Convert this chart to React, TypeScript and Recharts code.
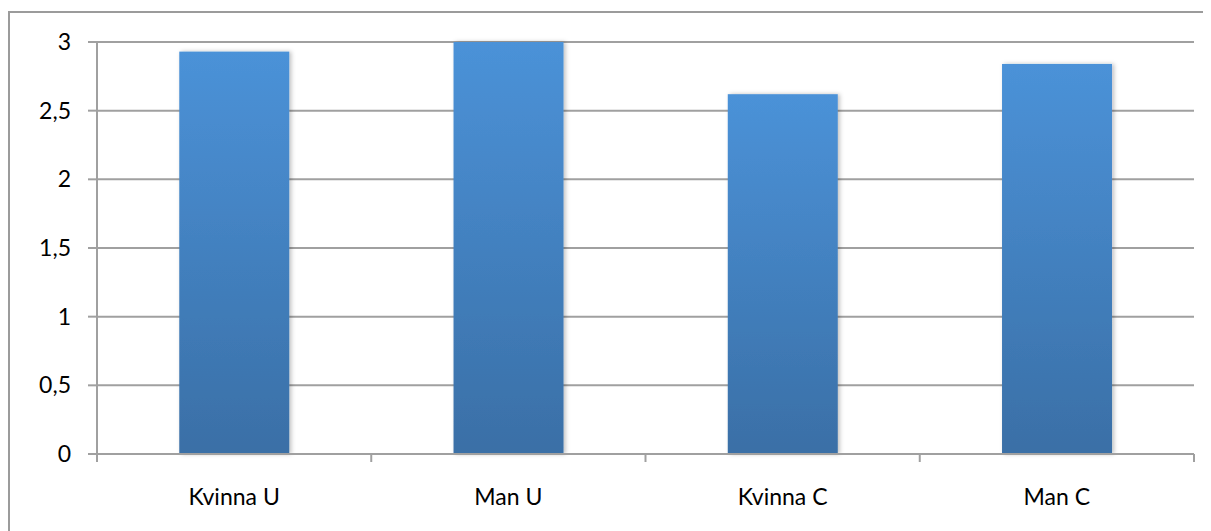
import { BarChart, Bar, XAxis, YAxis, CartesianGrid } from 'recharts'

const categories = ['Kvinna U', 'Man U', 'Kvinna C', 'Man C']
const values = [2.93, 3.0, 2.62, 2.84]
const yTicks = [0, 0.5, 1, 1.5, 2, 2.5, 3]

const data = categories.map((name, i) => ({ name, value: values[i] }))

const font = 'Lato, "Open Sans", sans-serif'
const axisGray = '#a0a0a0'

const W = 1203
const H = 523
const margin = { top: 34, right: 17, left: 0, bottom: 0 }
const yAxisWidth = 89
const xTickSize = 8
const xTickMargin = 27
const halfBand = (W - margin.left - margin.right - yAxisWidth) / categories.length / 2

function BarShape(props: any) {
  const { x, y, width, height } = props
  if (!height || height <= 0) return null
  return (
    <rect x={x} y={y} width={width} height={height} fill="url(#barGrad)" filter="url(#barShadow)" />
  )
}

// category labels plus tick marks on the category boundaries (Excel style)
function XTick(props: any) {
  const { x, y, payload, index } = props
  const axisY = y - xTickSize - xTickMargin
  const last = index === categories.length - 1
  return (
    <g>
      <line x1={x - halfBand} x2={x - halfBand} y1={axisY} y2={axisY + xTickSize} stroke={axisGray} strokeWidth={2} />
      {last && (
        <line x1={x + halfBand} x2={x + halfBand} y1={axisY} y2={axisY + xTickSize} stroke={axisGray} strokeWidth={2} />
      )}
      <text x={x} y={y} dy="0.71em" textAnchor="middle" fill="#000" fontSize={23} fontFamily={font}>
        {payload.value}
      </text>
    </g>
  )
}

export default function App() {
  return (
    <div style={{ position: 'relative', width: W, height: H, fontFamily: font }}>
      <div
        style={{
          position: 'absolute',
          left: 0,
          top: 3,
          width: 1220,
          height: 540,
          border: '2px solid #9b9b9b',
          boxSizing: 'border-box',
        }}
      />
      <div style={{ position: 'absolute', left: 0, top: 0 }}>
        <BarChart width={W} height={H} data={data} margin={margin} barCategoryGap="30%">
          <defs>
            <linearGradient id="barGrad" x1="0" y1="0" x2="0" y2="1">
              <stop offset="0%" stopColor="#4b92d8" />
              <stop offset="100%" stopColor="#3a6fa6" />
            </linearGradient>
            <filter id="barShadow" x="-10%" y="-10%" width="130%" height="120%">
              <feDropShadow dx="2" dy="0" stdDeviation="2" floodColor="#000" floodOpacity="0.25" />
            </filter>
          </defs>
          <CartesianGrid vertical={false} stroke={axisGray} strokeWidth={2} />
          <XAxis
            dataKey="name"
            height={77}
            axisLine={{ stroke: axisGray, strokeWidth: 2 }}
            tickLine={false}
            tickSize={xTickSize}
            tickMargin={xTickMargin}
            tick={<XTick />}
            interval={0}
          />
          <YAxis
            width={yAxisWidth}
            domain={[0, 3]}
            ticks={yTicks}
            interval={0}
            axisLine={{ stroke: axisGray, strokeWidth: 2 }}
            tickLine={{ stroke: axisGray, strokeWidth: 2 }}
            tickSize={9}
            tickMargin={17}
            tick={{ fill: '#000', fontSize: 23, fontFamily: font }}
            tickFormatter={(v) => String(v).replace('.', ',')}
          />
          <Bar dataKey="value" shape={BarShape} isAnimationActive={false} />
        </BarChart>
      </div>
    </div>
  )
}
